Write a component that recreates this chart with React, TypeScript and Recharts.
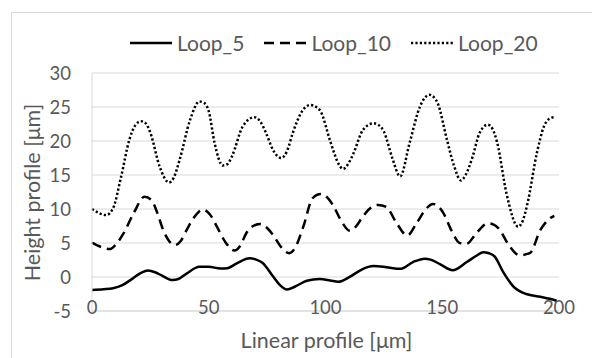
import { LineChart, Line, XAxis, YAxis, CartesianGrid, Label } from "recharts";

const FONT = "Lato, 'Open Sans', sans-serif";
const TEXT = "#595959";
const GRID = "#d9d9d9";

const xTicks = [0, 50, 100, 150, 200];
const yTicks = [-5, 0, 5, 10, 15, 20, 25, 30];

// Loop_5 (solid)
const loop5X = [0, 5, 9, 13, 17.5, 21, 24, 27, 30, 34.5, 37, 40.5, 46, 50, 55, 58, 62, 67.5, 70, 73, 77.5, 80.5, 83.5, 87, 92, 97.5, 102, 105.5, 110.5, 115.5, 120.5, 126, 132, 137.5, 142.5, 145, 149, 154.5, 160.5, 165, 167.5, 170, 172.5, 176, 180.5, 186, 192, 196, 199];
const loop5Y = [-1.9, -1.8, -1.65, -1.2, -0.2, 0.6, 0.95, 0.7, 0.2, -0.45, -0.3, 0.5, 1.5, 1.5, 1.25, 1.3, 2.0, 2.75, 2.6, 2.1, 0.1, -1.2, -1.85, -1.4, -0.55, -0.3, -0.5, -0.7, 0.05, 1.1, 1.6, 1.45, 1.2, 2.2, 2.7, 2.55, 1.9, 1.0, 2.2, 3.2, 3.65, 3.5, 3.0, 0.8, -1.4, -2.5, -2.9, -3.2, -3.5];

// Loop_10 (dashed)
const loop10X = [0, 4, 7.5, 10, 13.5, 18, 22.5, 25.5, 28, 30.5, 33, 35.5, 38, 40.5, 44, 47.5, 50.5, 53.5, 57, 61, 63.5, 66, 69, 72, 75, 77.5, 81, 84.5, 87, 90.5, 94.5, 98, 101, 103.5, 106.5, 110.5, 113, 116, 119.5, 122.5, 126, 130.5, 135, 139, 143, 146, 148.5, 150.5, 154, 157.5, 160.5, 164.5, 169.5, 172, 174, 178.5, 183, 187.5, 192, 196, 198];
const loop10Y = [5.05, 4.4, 4.1, 4.7, 6.4, 9.5, 11.8, 11.3, 9.4, 6.9, 5.3, 4.7, 5.3, 6.9, 8.9, 9.9, 9.2, 7.4, 5.2, 3.9, 4.6, 6.4, 7.5, 7.8, 7.2, 6.2, 4.4, 3.5, 4.3, 7.4, 11.6, 12.2, 11.6, 10.4, 8.4, 6.8, 7.4, 8.9, 10.2, 10.6, 10.3, 7.9, 6.1, 7.9, 10.0, 10.75, 10.3, 9.4, 6.8, 5.0, 4.9, 6.4, 7.9, 7.7, 7.2, 4.7, 3.2, 3.5, 6.9, 8.6, 9.0];

// Loop_20 (dotted)
const loop20X = [0, 3, 6, 9, 12.5, 16, 18.5, 21, 23, 25, 29, 33, 35, 37.5, 42, 46, 48, 50, 52.5, 56, 58, 60, 64.5, 69.5, 72, 74.5, 77.5, 81, 83.5, 86, 90, 93.5, 96, 98, 102, 106, 107.5, 110, 112, 116, 120.5, 122.5, 125, 128.5, 132, 136, 140.5, 144.5, 146.5, 148, 152, 155, 158, 160, 163, 166, 169.5, 171.5, 173.5, 177.5, 182.5, 184.5, 186.5, 190.5, 193.5, 196, 198];
const loop20Y = [10.0, 9.4, 9.1, 10.1, 14.8, 20.2, 22.3, 22.9, 22.6, 21.2, 16.2, 13.9, 14.6, 17.2, 23.1, 25.8, 25.6, 24.4, 19.7, 16.4, 16.6, 17.8, 22.1, 23.5, 22.9, 21.2, 18.7, 17.5, 18.5, 21.2, 24.4, 25.3, 25.0, 24.3, 20.0, 16.4, 15.9, 16.8, 18.2, 21.6, 22.6, 22.4, 21.4, 17.6, 14.8, 19.7, 25.1, 26.8, 26.4, 25.6, 20.2, 16.4, 14.2, 15.0, 17.7, 21.2, 22.4, 21.8, 19.8, 12.3, 7.4, 8.3, 10.8, 18.2, 22.1, 23.3, 23.5];

const toPoints = (xs: number[], ys: number[]) => xs.map((x, i) => ({ x, y: ys[i] }));

const series = [
  { name: "Loop_5", data: toPoints(loop5X, loop5Y), dash: undefined as string | undefined },
  { name: "Loop_10", data: toPoints(loop10X, loop10Y), dash: "10 6" },
  { name: "Loop_20", data: toPoints(loop20X, loop20Y), dash: "2.2 2.2" },
];

const XTick = ({ x, y, payload }: any) => (
  <text x={x} y={y + 2.5} textAnchor="middle" fill={TEXT} fontSize={18.5} fontFamily={FONT}>
    {payload.value}
  </text>
);

const YTick = ({ x, y, payload }: any) => (
  <text x={x} y={y + 7} textAnchor="end" fill={TEXT} fontSize={18.5} fontFamily={FONT}>
    {payload.value}
  </text>
);

export default function App() {
  return (
    <div style={{ position: "absolute", left: 0, top: 0, width: 592, height: 358, overflow: "hidden", background: "#fff" }}>
      <div style={{ position: "absolute", left: 11, top: 12, width: 640, height: 400, border: `1px solid ${GRID}` }} />
      <div style={{ position: "absolute", left: 0, top: 0 }}>
        <LineChart width={592} height={358} margin={{ top: 73, right: 33, bottom: 0, left: 12 }}>
          <CartesianGrid vertical={false} stroke={GRID} strokeWidth={1} />
          <XAxis
            dataKey="x"
            type="number"
            domain={[0, 200]}
            ticks={xTicks}
            height={47}
            tickSize={0}
            tickMargin={0}
            tick={<XTick />}
            axisLine={{ stroke: GRID }}
            allowDuplicatedCategory={false}
          >
            <Label
              content={() => (
                <text x={326.5} y={348} textAnchor="middle" fill={TEXT} fontSize={21.5} fontFamily={FONT}>
                  Linear profile [μm]
                </text>
              )}
            />
          </XAxis>
          <YAxis
            type="number"
            domain={[-5, 30]}
            ticks={yTicks}
            width={80}
            tickSize={0}
            tickMargin={21}
            tick={<YTick />}
            axisLine={{ stroke: GRID }}
          >
            <Label
              content={() => (
                <text x={40} y={192.5} textAnchor="middle" fill={TEXT} fontSize={21.5} fontFamily={FONT} transform="rotate(-90 40 192.5)">
                  Height profile [μm]
                </text>
              )}
            />
          </YAxis>
          {series.map((s) => (
            <Line
              key={s.name}
              data={s.data}
              dataKey="y"
              name={s.name}
              type="monotone"
              stroke="#000"
              strokeWidth={2.5}
              strokeDasharray={s.dash}
              dot={false}
              activeDot={false}
              isAnimationActive={false}
            />
          ))}
        </LineChart>
      </div>
      <div
        style={{
          position: "absolute",
          left: 130,
          top: 30,
          display: "flex",
          alignItems: "center",
          fontFamily: FONT,
          fontSize: 21,
          color: TEXT,
          whiteSpace: "nowrap",
        }}
      >
        {series.map((s) => (
          <div key={s.name} style={{ display: "flex", alignItems: "center", marginRight: 20 }}>
            <svg width={42} height={6}>
              <line x1={0} y1={3} x2={42} y2={3} stroke="#000" strokeWidth={2.5} strokeDasharray={s.dash} />
            </svg>
            <span style={{ marginLeft: 5, lineHeight: "26px" }}>{s.name}</span>
          </div>
        ))}
      </div>
    </div>
  );
}
